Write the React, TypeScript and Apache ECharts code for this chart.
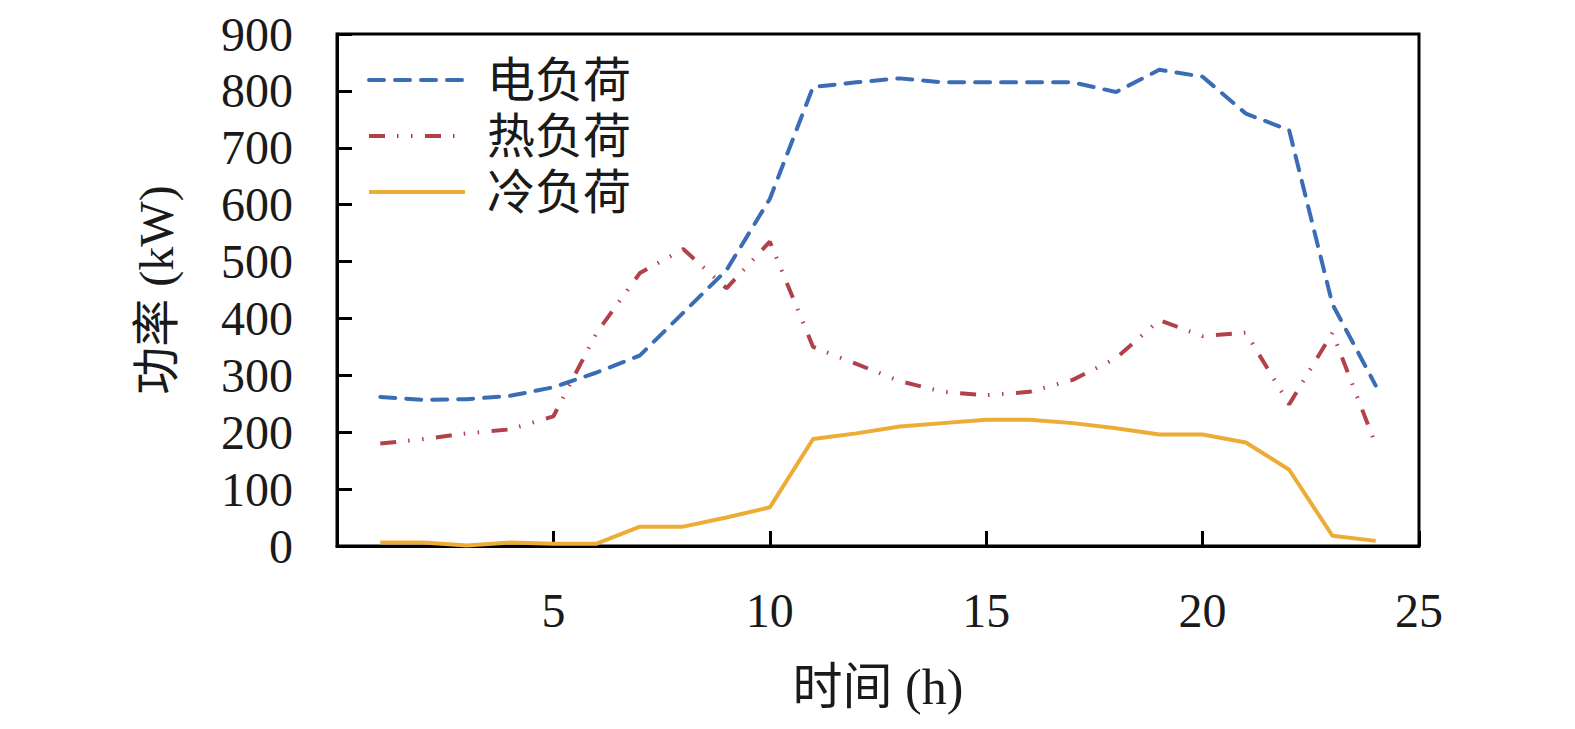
import React, { useEffect, useRef } from "react";
import * as echarts from "echarts";

const hours = [1, 2, 3, 4, 5, 6, 7, 8, 9, 10, 11, 12, 13, 14, 15, 16, 17, 18, 19, 20, 21, 22, 23, 24];
const electricLoad = [262, 257, 258, 264, 279, 305, 335, 410, 485, 610, 807, 815, 822, 815, 815, 815, 815, 798, 837, 825, 760, 731, 425, 282];
const heatLoad = [180, 188, 198, 205, 228, 375, 480, 522, 453, 535, 350, 320, 290, 271, 265, 271, 292, 330, 397, 369, 375, 249, 375, 178];
const coldLoad = [6, 6, 1, 6, 4, 4, 34, 34, 50, 68, 188, 198, 210, 216, 222, 222, 216, 207, 196, 196, 182, 134, 18, 9];
const seriesNames = ["电负荷", "热负荷", "冷负荷"];
const xAxisName = "时间 (h)";
const yAxisName = "功率 (kW)";

const FONT = '"Liberation Serif", "Times New Roman", "Noto Sans CJK SC", serif';

export default function App() {
  const ref = useRef<HTMLDivElement>(null);
  useEffect(() => {
    if (!ref.current) return;
    const chart = echarts.init(ref.current, undefined, { renderer: "svg" });
    const toData = (vals: number[]) => hours.map((h, i) => [h, vals[i]]);
    chart.setOption({
      animation: false,
      backgroundColor: "#ffffff",
      textStyle: { fontFamily: FONT, color: "#1a1a1a" },
      grid: {
        left: 337,
        right: 156,
        top: 34,
        bottom: 183,
        show: true,
        borderColor: "#000",
        borderWidth: 3,
        backgroundColor: "transparent",
      },
      legend: {
        orient: "vertical",
        left: 362,
        top: 51,
        itemWidth: 96,
        itemHeight: 14,
        itemGap: 8,
        itemStyle: { opacity: 0 },
        lineStyle: { width: 4 },
        textStyle: {
          fontFamily: FONT,
          fontSize: 48,
          lineHeight: 48,
          color: "#1a1a1a",
          padding: [0, 0, 0, 17],
        },
        data: seriesNames,
      },
      xAxis: {
        type: "value",
        min: 0,
        max: 25,
        interval: 5,
        name: xAxisName,
        nameLocation: "middle",
        nameGap: 116,
        nameTextStyle: { fontFamily: FONT, fontSize: 50, color: "#1a1a1a" },
        axisLine: { show: true, lineStyle: { color: "#000", width: 3 } },
        axisTick: { show: true, inside: true, length: 15, lineStyle: { color: "#000", width: 3 } },
        axisLabel: {
          showMinLabel: false,
          margin: 40,
          fontFamily: FONT,
          fontSize: 48,
          color: "#1a1a1a",
        },
        splitLine: { show: false },
      },
      yAxis: {
        type: "value",
        min: 0,
        max: 900,
        interval: 100,
        name: yAxisName,
        nameLocation: "middle",
        nameRotate: 90,
        nameGap: 157,
        nameTextStyle: { fontFamily: FONT, fontSize: 48, color: "#1a1a1a" },
        axisLine: { show: true, lineStyle: { color: "#000", width: 3 } },
        axisTick: { show: true, inside: true, length: 15, lineStyle: { color: "#000", width: 3 } },
        axisLabel: {
          margin: 44,
          fontFamily: FONT,
          fontSize: 48,
          color: "#1a1a1a",
        },
        splitLine: { show: false },
      },
      series: [
        {
          name: seriesNames[0],
          type: "line",
          data: toData(electricLoad),
          symbol: "none",
          lineStyle: { color: "#3B6CB6", width: 4, type: [15, 11], cap: "round" },
          itemStyle: { color: "#3B6CB6" },
        },
        {
          name: seriesNames[1],
          type: "line",
          data: toData(heatLoad),
          symbol: "none",
          lineStyle: { color: "#B2414B", width: 4, type: [16, 12, 1.5, 12.5, 1.5, 12.5], cap: "butt" },
          itemStyle: { color: "#B2414B" },
        },
        {
          name: seriesNames[2],
          type: "line",
          data: toData(coldLoad),
          symbol: "none",
          lineStyle: { color: "#ECAC35", width: 4, type: "solid" },
          itemStyle: { color: "#ECAC35" },
        },
      ],
    });
    return () => chart.dispose();
  }, []);
  return (
    <div
      ref={ref}
      style={{ position: "absolute", left: 0, top: 0, width: 1575, height: 729, background: "#fff" }}
    />
  );
}
